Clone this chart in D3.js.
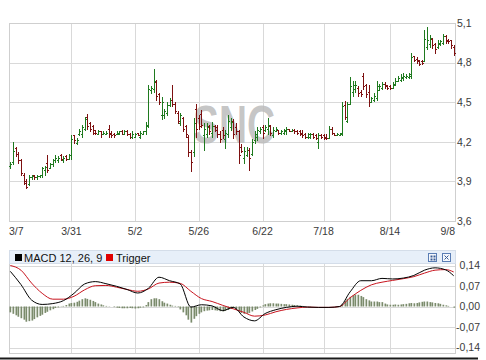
<!DOCTYPE html>
<html><head><meta charset="utf-8">
<script src="https://cdn.jsdelivr.net/npm/d3@7"></script>
<style>
body{margin:0;background:#fff}
svg{display:block}
text{font-family:Arial,"Liberation Sans",sans-serif}
</style>
</head><body>
<svg id="c" width="486" height="360"></svg>
<script>
// ---------- DATA ----------
const opens = [4.02,4.05,4.15,4.11,4.06,3.95,3.90,3.88,3.93,3.95,3.93,3.94,3.95,3.99,4.04,4.00,4.03,4.06,4.06,4.10,
4.06,4.09,4.07,4.10,4.25,4.19,4.26,4.26,4.30,4.39,4.34,4.32,4.29,4.26,4.28,4.26,4.26,4.30,4.27,4.26,
4.26,4.26,4.28,4.26,4.28,4.26,4.24,4.24,4.27,4.24,4.26,4.28,4.32,4.59,4.60,4.65,4.56,4.40,4.40,4.42,
4.48,4.52,4.49,4.42,4.34,4.38,4.32,4.24,4.12,4.12,4.45,4.38,4.41,4.25,4.26,4.32,4.27,4.32,4.31,4.26,
4.29,4.22,4.26,4.31,4.36,4.31,4.28,4.16,4.08,4.10,4.14,4.11,4.21,4.24,4.28,4.31,4.29,4.30,4.32,4.25,
4.28,4.29,4.27,4.27,4.28,4.30,4.28,4.29,4.28,4.28,4.27,4.26,4.24,4.24,4.26,4.25,4.20,4.25,4.25,4.24,
4.23,4.30,4.27,4.25,4.25,4.26,4.48,4.36,4.49,4.58,4.60,4.61,4.58,4.70,4.63,4.58,4.50,4.52,4.53,4.59,
4.61,4.64,4.63,4.62,4.61,4.63,4.66,4.67,4.68,4.69,4.69,4.70,4.85,4.83,4.82,4.81,4.81,4.92,4.94,4.98,
4.94,4.92,4.94,4.95,5.00,4.97,4.97,4.92];
const highs = [4.05,4.20,4.16,4.12,4.07,3.96,3.92,3.95,3.95,3.95,3.95,3.95,4.01,4.02,4.10,4.04,4.07,4.10,4.09,4.11,
4.09,4.10,4.11,4.25,4.25,4.23,4.30,4.33,4.39,4.41,4.35,4.33,4.29,4.29,4.28,4.28,4.28,4.33,4.28,4.27,
4.28,4.28,4.29,4.29,4.29,4.27,4.28,4.27,4.27,4.28,4.28,4.35,4.63,4.62,4.75,4.67,4.57,4.54,4.45,4.50,
4.53,4.63,4.50,4.43,4.42,4.39,4.33,4.25,4.14,4.38,4.49,4.40,4.44,4.34,4.34,4.33,4.35,4.33,4.33,4.28,
4.31,4.29,4.40,4.38,4.37,4.34,4.29,4.18,4.16,4.16,4.15,4.22,4.28,4.31,4.31,4.33,4.33,4.38,4.33,4.31,
4.31,4.29,4.29,4.30,4.31,4.30,4.30,4.30,4.29,4.29,4.29,4.27,4.27,4.27,4.27,4.26,4.27,4.26,4.26,4.26,
4.32,4.31,4.27,4.27,4.27,4.50,4.51,4.50,4.69,4.66,4.66,4.62,4.59,4.72,4.64,4.63,4.54,4.57,4.66,4.64,
4.65,4.65,4.63,4.63,4.65,4.68,4.70,4.71,4.72,4.71,4.72,4.87,4.85,4.84,4.82,4.82,5.05,5.07,5.01,4.99,
4.95,4.97,4.97,5.02,5.01,4.98,4.97,4.93];
const lows = [4.00,4.03,4.09,4.04,3.95,3.88,3.85,3.87,3.92,3.92,3.92,3.93,3.93,3.95,3.97,4.00,4.02,4.05,4.05,4.06,
4.05,4.06,4.07,4.07,4.19,4.18,4.25,4.24,4.29,4.30,4.28,4.26,4.26,4.26,4.24,4.26,4.26,4.24,4.24,4.24,
4.26,4.26,4.26,4.26,4.25,4.23,4.23,4.24,4.25,4.23,4.26,4.26,4.31,4.57,4.58,4.52,4.49,4.37,4.38,4.40,
4.47,4.47,4.42,4.34,4.33,4.28,4.24,4.09,3.98,4.09,4.24,4.30,4.31,4.14,4.24,4.26,4.24,4.28,4.24,4.20,
4.23,4.15,4.24,4.29,4.23,4.26,4.04,4.12,4.04,4.09,3.99,4.10,4.19,4.21,4.27,4.23,4.28,4.26,4.25,4.24,
4.28,4.26,4.26,4.26,4.26,4.28,4.28,4.27,4.26,4.25,4.24,4.23,4.23,4.23,4.23,4.22,4.15,4.23,4.22,4.22,
4.23,4.26,4.25,4.25,4.25,4.25,4.37,4.35,4.49,4.55,4.58,4.55,4.55,4.60,4.54,4.47,4.50,4.51,4.52,4.59,
4.60,4.61,4.60,4.60,4.61,4.63,4.66,4.66,4.67,4.68,4.68,4.68,4.81,4.80,4.78,4.79,4.81,4.90,4.92,4.91,
4.87,4.91,4.93,4.94,4.95,4.95,4.91,4.86];
const closes = [4.03,4.13,4.11,4.06,3.96,3.89,3.86,3.93,3.94,3.93,3.94,3.95,4.00,4.01,3.99,4.03,4.06,4.08,4.08,4.07,
4.08,4.07,4.10,4.22,4.21,4.21,4.28,4.31,4.37,4.32,4.30,4.27,4.27,4.28,4.26,4.27,4.27,4.26,4.25,4.25,
4.27,4.28,4.26,4.28,4.26,4.24,4.26,4.26,4.25,4.27,4.28,4.33,4.60,4.61,4.66,4.55,4.50,4.50,4.43,4.48,
4.52,4.49,4.43,4.36,4.40,4.30,4.26,4.12,4.05,4.34,4.30,4.32,4.33,4.30,4.31,4.28,4.32,4.29,4.26,4.22,
4.25,4.27,4.36,4.35,4.26,4.28,4.10,4.13,4.13,4.14,4.08,4.20,4.26,4.29,4.30,4.27,4.31,4.33,4.27,4.29,
4.30,4.27,4.28,4.29,4.30,4.28,4.29,4.28,4.27,4.26,4.25,4.24,4.26,4.26,4.24,4.23,4.25,4.24,4.23,4.23,
4.30,4.27,4.25,4.26,4.27,4.47,4.39,4.49,4.62,4.63,4.63,4.57,4.56,4.62,4.56,4.50,4.53,4.55,4.62,4.62,
4.64,4.62,4.61,4.61,4.64,4.66,4.68,4.69,4.70,4.70,4.71,4.84,4.82,4.81,4.79,4.80,4.98,4.97,4.99,4.93,
4.90,4.95,4.96,5.00,4.96,4.96,4.93,4.87];

const dateLabels = ["3/7","3/31","5/2","5/26","6/22","7/18","8/14","9/8"];
const dateIdx    = [-2, 23, 47, 71, 95, 118, 143, 167];
const priceTicks = [3.6, 3.9, 4.2, 4.5, 4.8, 5.1];
const priceTickLabels = ["3,6","3,9","4,2","4,5","4,8","5,1"];

const macdIdx = [0,4,8,12,16,20,24,28,32,36,40,44,48,52,56,60,64,68,72,76,80,84,88,92,96,100,104,108,112,116,120,124,128,132,136,140,144,148,152,156,160,164,167];
const macdVals = [0.12,0.075,0.022,0.007,0.01,0.02,0.045,0.077,0.085,0.078,0.069,0.058,0.046,0.062,0.1,0.088,0.077,-0.002,0.006,0.002,-0.014,-0.003,-0.036,-0.049,-0.024,-0.011,-0.003,0.001,-0.002,-0.003,-0.003,0,0.05,0.088,0.088,0.096,0.094,0.097,0.106,0.124,0.132,0.125,0.105];
const triggerVals = [0.14,0.124,0.08,0.045,0.025,0.025,0.035,0.057,0.071,0.072,0.066,0.058,0.052,0.06,0.08,0.083,0.079,0.052,0.027,0.017,0.004,-0.008,-0.02,-0.033,-0.029,-0.018,-0.01,-0.005,-0.002,-0.003,-0.003,0,0.03,0.055,0.074,0.083,0.089,0.095,0.102,0.114,0.124,0.126,0.118];
const histVals = [-0.02,-0.025,-0.03,-0.035,-0.04,-0.045,-0.052,-0.05,-0.048,-0.043,-0.037,-0.032,-0.028,-0.022,-0.018,-0.013,-0.009,-0.005,-0.003,-0.001,
0.002,0.005,0.01,0.012,0.013,0.016,0.02,0.025,0.028,0.026,0.023,0.019,0.015,0.01,0.007,0.004,0.002,0.001,0,-0.002,
-0.004,-0.005,-0.006,-0.006,-0.006,-0.005,-0.006,-0.007,-0.006,-0.004,-0.003,0.005,0.015,0.025,0.028,0.028,0.025,
0.018,0.013,0.01,0.006,0.003,0.002,-0.002,-0.01,-0.02,-0.03,-0.045,-0.055,-0.042,-0.033,-0.025,-0.02,-0.016,-0.014,-0.013,-0.012,-0.013,-0.014,-0.016,-0.017,-0.015,-0.012,-0.008,-0.006,-0.012,-0.018,-0.022,-0.025,-0.024,-0.022,-0.017,-0.012,-0.008,-0.003,0.004,0.008,0.01,0.011,0.011,0.01,0.01,0.009,0.008,0.008,0.007,0.006,0.005,0.004,0.003,0.002,0.001,
0.001,0.001,0,0,0,0,0,0,0,0,0,0.001,
0.002,0.009,0.02,0.026,0.033,0.038,0.041,0.04,0.036,0.032,0.025,0.021,0.017,0.017,0.017,0.015,0.015,0.01,0.007,0.006,0.006,0.007,0.006,0.007,0.008,0.009,0.011,0.012,0.011,0.012,0.014,0.016,0.017,0.017,0.015,0.014,0.012,0.011,0.009,0.006,0.004,0.002,0,-0.004];
const macdTicks = [-0.14,-0.07,0,0.07,0.14];
const macdTickLabels = ["-0,14","-0,07","0,00","0,07","0,14"];
const watermark = "SNC";
const legendMacd = "MACD 12, 26, 9";
const legendTrigger = "Trigger";

// ---------- LAYOUT ----------
const svg = d3.select("#c");
const L = 9, R = 455;
const P = {top:23, bottom:221};
const M = {top:263, bottom:353};
const N = closes.length;
const x = d3.scaleLinear().domain([-0.5, N - 0.5]).range([L, R]);
const y = d3.scaleLinear().domain([3.6, 5.1]).range([P.bottom, P.top]);
const ym = d3.scaleLinear().domain([-0.14, 0.14]).range([347.5, 265.5]);
const gridC = "#d9d9d9", textC = "#3a3a3a";
const UP = "#1f7a1f", DOWN = "#7d1010";
const px = v => Math.round(v) + 0.5;

// ---------- PRICE PANEL ----------
const gP = svg.append("g");
gP.selectAll("line.hg").data(priceTicks).join("line")
  .attr("x1", L).attr("x2", R).attr("y1", d => px(y(d))).attr("y2", d => px(y(d)))
  .attr("stroke", gridC).attr("shape-rendering","crispEdges");
const vIdx = dateIdx.filter(d => x(d) > L + 1 && x(d) < R - 3);
gP.selectAll("line.vg").data(vIdx).join("line")
  .attr("x1", d => px(x(d))).attr("x2", d => px(x(d))).attr("y1", P.top).attr("y2", P.bottom)
  .attr("stroke", gridC).attr("shape-rendering","crispEdges");
gP.append("rect").attr("x", L + 0.5).attr("y", P.top + 0.5).attr("width", R - L).attr("height", P.bottom - P.top)
  .attr("fill","none").attr("stroke", "#cfcfcf").attr("shape-rendering","crispEdges");

// watermark
gP.append("text").attr("x", 234).attr("y", 143).attr("text-anchor","middle")
  .attr("font-size", 54).attr("font-weight","bold").attr("fill","#bcbcbc").attr("fill-opacity",0.85)
  .attr("textLength", 82).attr("lengthAdjust","spacingAndGlyphs").text(watermark);

// OHLC bars
const bars = gP.append("g").attr("shape-rendering","crispEdges").attr("stroke-width",1).attr("fill","none");
closes.forEach((c, i) => {
  const cx = px(x(i));
  const col = c >= opens[i] ? UP : DOWN;
  const yo = px(y(opens[i])), yc = px(y(c));
  bars.append("path")
    .attr("d", `M${cx},${Math.round(y(highs[i]))}V${Math.round(y(lows[i]))+1}M${cx-1.5},${yo}H${cx+0.5}M${cx-0.5},${yc}H${cx+1.5}`)
    .attr("stroke", col);
});

// axes labels
gP.selectAll("text.pl").data(priceTicks).join("text")
  .attr("x", 457).attr("y", d => y(d)).attr("dy","0.36em")
  .attr("font-size", 10.5).attr("fill", textC)
  .text((d, i) => priceTickLabels[i]);
gP.selectAll("text.dl").data(dateIdx).join("text")
  .attr("x", (d, i) => i === 0 ? L : (i === dateIdx.length - 1 ? R : x(d)))
  .attr("y", 235)
  .attr("text-anchor", (d, i) => i === 0 ? "start" : (i === dateIdx.length - 1 ? "end" : "middle"))
  .attr("font-size", 10.5).attr("fill", textC)
  .text((d, i) => dateLabels[i]);

// ---------- MACD PANEL ----------
const gM = svg.append("g");
gM.append("rect").attr("x", L + 0.5).attr("y", 250.5).attr("width", R - L).attr("height", 13)
  .attr("fill","#e7eff9").attr("stroke","#d4dde9").attr("shape-rendering","crispEdges");
gM.selectAll("line.hg").data(macdTicks).join("line")
  .attr("x1", L).attr("x2", R).attr("y1", d => px(ym(d))).attr("y2", d => px(ym(d)))
  .attr("stroke", gridC).attr("shape-rendering","crispEdges");
gM.selectAll("line.vg").data(vIdx).join("line")
  .attr("x1", d => px(x(d))).attr("x2", d => px(x(d))).attr("y1", M.top + 1).attr("y2", M.bottom)
  .attr("stroke", gridC).attr("shape-rendering","crispEdges");
gM.append("path").attr("d", `M${L+0.5},${M.top+1}V${M.bottom+0.5}H${R+0.5}V${M.top+1}`)
  .attr("fill","none").attr("stroke","#cfcfcf").attr("shape-rendering","crispEdges");

// histogram
gM.selectAll("rect.h").data(histVals).join("rect")
  .attr("x", (d, i) => Math.round(x(i)) - 0.5).attr("width", 1.7)
  .attr("y", d => Math.min(ym(d), ym(0))).attr("height", d => Math.abs(ym(d) - ym(0)))
  .attr("fill", "#7b8b6c");

const line = d3.line().x((d, k) => x(macdIdx[k])).y(d => ym(d)).curve(d3.curveMonotoneX);
gM.append("path").attr("d", line(triggerVals)).attr("fill","none").attr("stroke","#c8141e").attr("stroke-width",1);
gM.append("path").attr("d", line(macdVals)).attr("fill","none").attr("stroke","#000").attr("stroke-width",1);

// legend
gM.append("rect").attr("x", 15).attr("y", 254).attr("width", 7).attr("height", 7).attr("fill","#000");
gM.append("text").attr("x", 24).attr("y", 261.5).attr("font-size", 11).attr("fill","#111").text(legendMacd);
gM.append("rect").attr("x", 106).attr("y", 254).attr("width", 7).attr("height", 7).attr("fill","#e00000");
gM.append("text").attr("x", 116).attr("y", 261.5).attr("font-size", 11).attr("fill","#111").text(legendTrigger);

// icons
gM.append("rect").attr("x", 428.5).attr("y", 253.5).attr("width", 8).attr("height", 8)
  .attr("fill","#f4f7fc").attr("stroke","#5a7db4").attr("shape-rendering","crispEdges");
[[430.5,255.5],[433.5,255.5],[430.5,258.5],[433.5,258.5]].forEach(p =>
  gM.append("rect").attr("x", p[0]).attr("y", p[1]).attr("width", 2).attr("height", 2).attr("fill","#3a5c94"));
gM.append("rect").attr("x", 442.5).attr("y", 253.5).attr("width", 8).attr("height", 8)
  .attr("fill","#f4f7fc").attr("stroke","#5a7db4").attr("shape-rendering","crispEdges");
gM.append("path").attr("d","M444.5,255.5L448.5,259.5M448.5,255.5L444.5,259.5").attr("stroke","#3a5c94").attr("stroke-width",1);

gM.selectAll("text.ml").data(macdTicks).join("text")
  .attr("x", 480).attr("y", d => ym(d)).attr("dy","0.36em").attr("text-anchor","end")
  .attr("font-size", 10.5).attr("fill", textC)
  .text((d, i) => macdTickLabels[i]);

// bottom frame line
svg.append("line").attr("x1", 0).attr("x2", 478).attr("y1", 358.5).attr("y2", 358.5)
  .attr("stroke","#1a1a1a").attr("stroke-width",2);
</script>
</body></html>
